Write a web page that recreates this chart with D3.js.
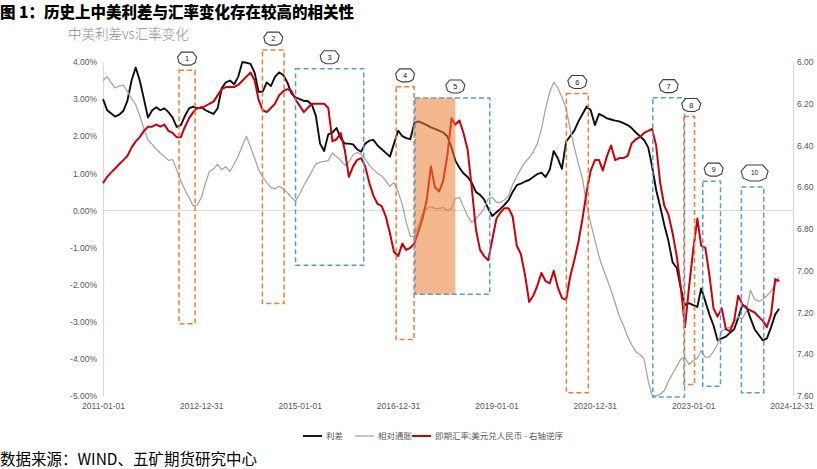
<!DOCTYPE html>
<html><head><meta charset="utf-8">
<script src="https://cdn.jsdelivr.net/npm/d3@7"></script>
<style>body{margin:0;background:#fff}svg{display:block}</style>
</head><body>
<svg id="c" width="817" height="469"></svg>
<script>
// monthly, Jan 2011 .. Oct 2024
const spread = [
3.0,2.7,2.62,2.53,2.58,2.68,2.95,3.5,3.85,3.5,3.0,2.5,
2.7,2.78,2.7,2.75,2.65,2.5,2.25,2.3,2.55,2.75,2.8,2.75,
2.78,2.7,2.65,2.6,2.75,3.3,3.45,3.5,3.4,3.6,4.0,3.98,
3.95,3.7,3.2,3.2,3.45,3.35,3.6,3.72,3.65,3.45,3.15,3.05,
3.0,2.95,2.95,2.85,2.55,1.8,1.6,2.05,2.1,2.22,1.95,1.8,
1.8,1.78,1.65,1.58,1.8,1.88,1.9,1.75,1.65,1.55,1.45,1.8,
2.15,2.0,1.95,1.92,2.35,2.4,2.35,2.3,2.24,2.2,2.15,2.1,
2.0,1.7,1.35,1.15,1.0,0.9,0.75,0.5,0.42,0.3,0.05,-0.15,
-0.05,0.05,0.15,0.28,0.5,0.68,0.72,0.78,0.82,0.9,0.98,1.02,
0.9,1.1,1.6,1.4,1.12,1.85,2.0,2.15,2.4,2.6,2.8,2.7,
2.3,2.6,2.55,2.48,2.45,2.42,2.4,2.35,2.3,2.22,2.1,2.0,
1.9,1.7,1.2,0.55,0.1,-0.4,-0.82,-1.4,-1.55,-2.1,-2.55,-2.5,
-2.55,-2.6,-2.1,-2.45,-2.8,-3.1,-3.5,-3.45,-3.4,-3.3,-3.2,-2.9,
-2.55,-2.6,-2.9,-3.2,-3.35,-3.5,-3.45,-3.15,-2.8,-2.65
];
const inflation = [
3.5,3.6,3.45,3.3,3.35,3.38,3.2,3.02,2.85,2.55,2.2,1.9,
1.78,1.65,1.55,1.45,1.35,1.37,1.1,0.8,0.55,0.35,0.12,0.15,
0.35,0.75,1.05,1.12,1.24,1.1,1.18,1.05,1.25,1.46,1.75,2.0,
1.7,1.4,1.1,0.9,0.75,0.62,0.58,0.65,0.58,0.48,0.35,0.25,
0.45,0.68,0.85,1.05,1.25,1.3,1.32,1.35,1.55,1.45,1.35,1.22,
1.3,1.5,1.56,1.52,1.38,1.22,1.1,1.0,0.93,0.8,0.65,0.75,
0.5,0.15,-0.3,-0.7,-0.7,-0.4,-0.08,0.05,0.1,0.05,0.05,0.08,
0.0,0.05,0.32,0.35,0.1,-0.15,-0.32,-0.22,-0.1,0.05,0.32,0.35,
0.22,0.22,0.28,0.4,0.7,0.92,1.12,1.3,1.42,1.58,1.8,2.2,
2.75,3.2,3.45,3.3,3.05,2.75,2.2,1.7,1.25,0.85,0.15,-0.35,
-0.8,-1.25,-1.55,-1.85,-2.15,-2.5,-2.85,-3.1,-3.4,-3.62,-3.8,-3.88,
-4.0,-4.6,-4.98,-5.0,-4.95,-4.85,-4.6,-4.4,-4.2,-4.0,-3.98,-4.15,
-4.05,-3.98,-3.78,-3.95,-3.95,-3.8,-3.6,-3.25,-3.18,-3.15,-3.0,-2.86,
-2.92,-2.7,-2.15,-2.4,-2.45,-2.4,-2.3,-2.18,-2.0,-1.8
];
const usdcny = [
6.58,6.55,6.53,6.51,6.49,6.47,6.45,6.41,6.38,6.36,6.33,6.31,
6.31,6.30,6.31,6.30,6.33,6.34,6.36,6.36,6.31,6.27,6.24,6.22,
6.22,6.21,6.20,6.19,6.16,6.13,6.12,6.12,6.12,6.11,6.09,6.07,
6.05,6.09,6.18,6.23,6.24,6.22,6.20,6.16,6.14,6.13,6.14,6.18,
6.21,6.24,6.22,6.20,6.20,6.20,6.20,6.22,6.38,6.37,6.34,6.42,
6.55,6.50,6.47,6.46,6.50,6.58,6.64,6.68,6.69,6.74,6.82,6.91,
6.93,6.87,6.90,6.89,6.87,6.81,6.75,6.66,6.50,6.60,6.62,6.57,
6.45,6.27,6.30,6.28,6.34,6.42,6.60,6.80,6.90,6.93,6.95,6.85,
6.75,6.72,6.70,6.70,6.74,6.88,6.92,7.02,7.15,7.12,7.07,7.01,
7.05,7.06,7.00,7.08,7.13,7.14,7.03,6.95,6.86,6.75,6.62,6.52,
6.47,6.47,6.52,6.45,6.40,6.47,6.46,6.46,6.45,6.39,6.37,6.36,
6.34,6.33,6.32,6.40,6.58,6.69,6.73,6.82,6.93,7.08,7.27,7.08,
6.90,6.75,6.88,6.89,7.02,7.18,7.22,7.18,7.28,7.29,7.24,7.12,
7.16,7.18,7.19,7.20,7.22,7.24,7.27,7.21,7.04,7.05
];
const months = d3.timeMonth.range(new Date(2011,0,1), new Date(2024,10,1));

const xTickLabels = ["2011-01-01","2012-12-31","2015-01-01","2016-12-31","2019-01-01","2020-12-31","2023-01-01","2024-12-31"];
const leftTicks = [4,3,2,1,0,-1,-2,-3,-4,-5];
const rightTicks = [6.0,6.2,6.4,6.6,6.8,7.0,7.2,7.4,7.6];

// annotation boxes (dates, left-axis values)
const boxLabels = ["1","2","3","4","5","6","7","8","9","10"];
const boxStart  = ["2012-07-19","2014-03-30","2014-12-01","2016-12-17","2017-05-06","2020-06-03","2022-03-07","2022-10-24","2023-03-13","2023-12-25"];
const boxEnd    = ["2012-11-15","2014-09-07","2016-04-20","2017-04-29","2018-11-12","2020-11-13","2022-10-29","2023-01-11","2023-07-23","2024-06-08"];
const boxTop    = [3.78,4.32,3.82,3.33,3.03,3.15,3.04,2.53,0.79,0.63];
const boxBottom = [-3.05,-2.51,-1.48,-3.48,-2.26,-4.91,-5.03,-4.69,-4.74,-4.91];
const boxKind   = ["orange","orange","blue","orange","blue","orange","blue","orange","blue","blue"];
const shadeRange = ["2017-05-06","2018-03-02"];

const legendNames = ["利差","相对通胀","即期汇率:美元兑人民币 - 右轴逆序"];

const parse = d3.timeParse("%Y-%m-%d");
const svg = d3.select("#c");
const x = d3.scaleTime().domain([parse("2011-01-01"), parse("2024-12-31")]).range([103, 791.5]);
const yL = d3.scaleLinear().domain([-5, 4]).range([396, 62]);
const yR = d3.scaleLinear().domain([6, 7.6]).range([62, 396]);
const colors = {black:"#0d0d0d", gray:"#a6a6a6", red:"#c8000a", orange:"#ed7d31", blue:"#5b9bd5"};

// title etc
svg.append("text").attr("x",0).attr("y",18).attr("font-family","Noto Sans CJK SC").attr("font-weight",900)
  .attr("font-size",15.5).attr("fill","#000").text("图 1：历史上中美利差与汇率变化存在较高的相关性");
svg.append("text").attr("x",68).attr("y",39).attr("font-family","Noto Sans CJK SC").attr("font-weight",300)
  .attr("font-size",13.5).attr("fill","#8c8c8c").text("中美利差vs汇率变化");
svg.append("text").attr("x",0).attr("y",465).attr("font-family","Noto Sans CJK SC")
  .attr("font-size",15.5).attr("fill","#000").text("数据来源：WIND、五矿期货研究中心");

// axes
const axL = svg.append("g").attr("transform","translate(103,0)")
  .call(d3.axisLeft(yL).tickValues(leftTicks).tickFormat(d=>d.toFixed(2)+"%").tickSize(0).tickPadding(6));
const axR = svg.append("g").attr("transform","translate(793,0)")
  .call(d3.axisRight(yR).tickValues(rightTicks).tickFormat(d=>d.toFixed(2)).tickSize(0).tickPadding(4));
const axB = svg.append("g").attr("transform","translate(0,400)")
  .call(d3.axisBottom(x).tickValues(xTickLabels.map(parse)).tickFormat(d3.timeFormat("%Y-%m-%d")).tickSize(0).tickPadding(3));
axB.select(".domain").remove();
[axL,axR].forEach(a=>a.select(".domain").attr("stroke","#d9d9d9").attr("stroke-width",1.2));
[axL,axR,axB].forEach(a=>a.selectAll("text").attr("fill","#595959").attr("font-size",8.5)
  .attr("font-family","Liberation Sans, Arial, sans-serif"));

// zero line
svg.append("line").attr("x1",103).attr("x2",793).attr("y1",yL(0)).attr("y2",yL(0))
  .attr("stroke","#d9d9d9").attr("stroke-width",1);

// lines
const lineL = d3.line().x((d,i)=>x(months[i])).y(d=>yL(d));
const lineR = d3.line().x((d,i)=>x(months[i])).y(d=>yR(d));
svg.append("path").datum(spread).attr("d",lineL).attr("fill","none").attr("stroke",colors.black).attr("stroke-width",1.9).attr("stroke-linejoin","round");
svg.append("path").datum(inflation).attr("d",lineL).attr("fill","none").attr("stroke",colors.gray).attr("stroke-width",1.3).attr("stroke-linejoin","round");
svg.append("path").datum(usdcny).attr("d",lineR).attr("fill","none").attr("stroke",colors.red).attr("stroke-width",2).attr("stroke-linejoin","round");

// shade
svg.append("rect").attr("x",x(parse(shadeRange[0]))).attr("width",x(parse(shadeRange[1]))-x(parse(shadeRange[0])))
  .attr("y",yL(boxTop[4])).attr("height",yL(boxBottom[4])-yL(boxTop[4]))
  .attr("fill",colors.orange).attr("opacity",0.55);

// boxes
const boxes = boxLabels.map((l,i)=>({l, x0:x(parse(boxStart[i])), x1:x(parse(boxEnd[i])), y0:yL(boxTop[i]), y1:yL(boxBottom[i]), c:colors[boxKind[i]]}));
const bg = svg.append("g");
bg.selectAll("rect").data(boxes).join("rect")
  .attr("x",d=>d.x0).attr("y",d=>d.y0).attr("width",d=>d.x1-d.x0).attr("height",d=>d.y1-d.y0)
  .attr("fill","none").attr("stroke",d=>d.c).attr("stroke-width",1.5).attr("stroke-dasharray","5,3");

// number badges
const badge = (w,h)=>[[-0.3*w,-0.5*h],[0.3*w,-0.5*h],[0.5*w,-0.12*h],[0.42*w,0.32*h],[0.18*w,0.5*h],[-0.18*w,0.5*h],[-0.42*w,0.32*h],[-0.5*w,-0.12*h]];
const lg = svg.append("g");
boxes.forEach((d,i)=>{
  const big = d.l.length>1;
  const w = big?27:19, h = big?16:13;
  const cx = (d.x0+d.x1)/2 + (i===4?3:0) + (i>=7?2:0);
  const cy = d.y0 - (big?14:11.5);
  const g = lg.append("g").attr("transform",`translate(${cx},${cy})`);
  g.append("polygon").attr("points",badge(w,h).map(p=>p.join(",")).join(" "))
    .attr("fill","#fff").attr("stroke","#404040").attr("stroke-width",1.1);
  g.append("text").attr("text-anchor","middle").attr("dy","0.35em").attr("font-size",big?6.5:7.5)
    .attr("font-family","Liberation Sans, Arial, sans-serif").attr("fill","#222").text(d.l);
});

// legend
const leg = svg.append("g").attr("font-family","Noto Sans CJK SC").attr("font-size",8.5).attr("fill","#595959");
const legItems = [{x:303,c:colors.black,w:1.9},{x:355,c:colors.gray,w:1.3},{x:412,c:colors.red,w:2}];
legItems.forEach((it,i)=>{
  leg.append("line").attr("x1",it.x).attr("x2",it.x+19).attr("y1",436).attr("y2",436).attr("stroke",it.c).attr("stroke-width",it.w);
  leg.append("text").attr("x",it.x+23).attr("y",439).text(legendNames[i]);
});
</script>
</body></html>
